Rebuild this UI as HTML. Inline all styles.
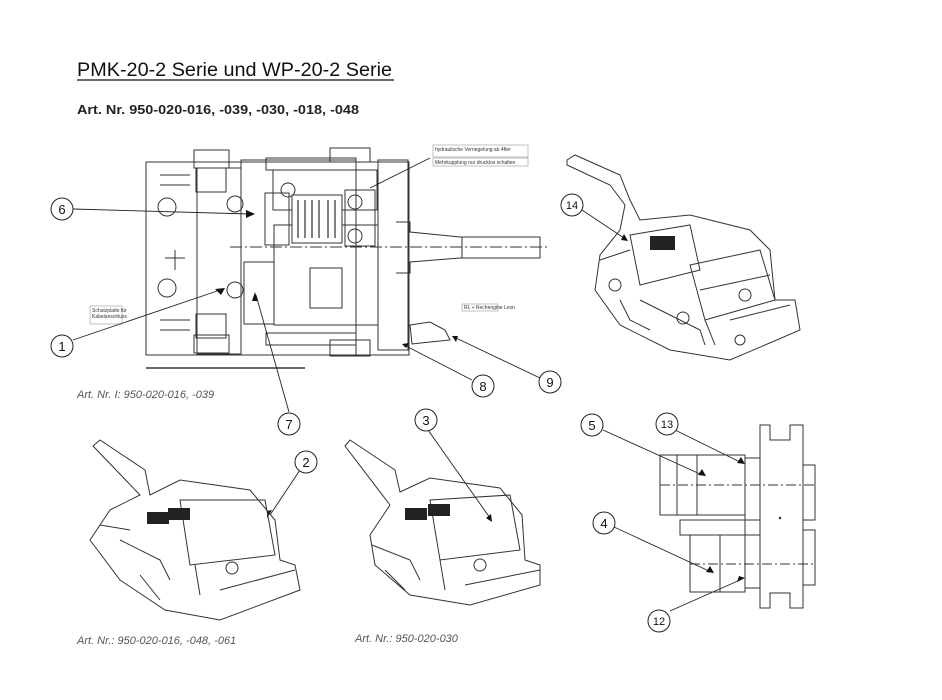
<!DOCTYPE html>
<html><head><meta charset="utf-8"><style>
body{margin:0;background:#fff;width:942px;height:700px;overflow:hidden;font-family:"Liberation Sans",sans-serif}
svg{position:absolute;left:0;top:0}
</style></head><body>
<svg width="942" height="700" viewBox="0 0 942 700" xmlns="http://www.w3.org/2000/svg" font-family="Liberation Sans, sans-serif">
<text x="77" y="76" font-size="19" fill="#111" textLength="315" lengthAdjust="spacingAndGlyphs">PMK-20-2 Serie und WP-20-2 Serie</text>
<line x1="77" y1="80" x2="394" y2="80" stroke="#111" stroke-width="1.3"/>
<text x="77" y="114" font-size="12.5" font-weight="bold" fill="#222" textLength="282" lengthAdjust="spacingAndGlyphs">Art. Nr. 950-020-016, -039, -030, -018, -048</text>
<g font-size="11" font-style="italic" fill="#555">
<text x="77" y="398">Art. Nr.  I: 950-020-016, -039</text>
<text x="77" y="644">Art. Nr.: 950-020-016, -048, -061</text>
<text x="355" y="642">Art. Nr.: 950-020-030</text>
</g>
<g fill="none" stroke="#333" stroke-width="1">
<rect x="146" y="162" width="263" height="193"/>
<rect x="197" y="168" width="44" height="186"/>
<rect x="241" y="160" width="115" height="195"/>
<rect x="273" y="170" width="104" height="40"/>
<rect x="274" y="225" width="104" height="100"/>
<rect x="345" y="190" width="30" height="56"/>
<rect x="265" y="193" width="24" height="52"/>
<rect x="244" y="262" width="30" height="62"/>
<rect x="310" y="268" width="32" height="40"/>
<rect x="196" y="168" width="30" height="24"/>
<rect x="196" y="314" width="30" height="24"/>
<rect x="194" y="150" width="35" height="18"/>
<rect x="194" y="335" width="35" height="18"/>
<rect x="330" y="148" width="40" height="14"/>
<rect x="330" y="340" width="40" height="16"/>
<rect x="266" y="158" width="90" height="12"/>
<rect x="266" y="333" width="90" height="12"/>
<rect x="378" y="160" width="30" height="190"/>
<path d="M160 175 h30 M160 185 h30 M160 320 h30 M160 330 h30"/>
<path d="M175 250 v20 M165 258 h20"/>
<path d="M396 222 L410 222 L410 232 L460 237 L540 237 L540 258 L460 258 L410 262 L410 273 L396 273"/>
<line x1="462" y1="237" x2="462" y2="258"/>
<circle cx="167" cy="207" r="9"/><circle cx="167" cy="288" r="9"/>
<circle cx="235" cy="204" r="8"/><circle cx="235" cy="290" r="8"/>
<circle cx="288" cy="190" r="7"/><circle cx="355" cy="202" r="7"/><circle cx="355" cy="236" r="7"/>
<path d="M410 325 L430 322 L445 330 L450 340 L430 342 L412 344 Z"/>
<line x1="146" y1="368" x2="305" y2="368" stroke-width="1.5"/>
<line x1="230" y1="247" x2="550" y2="247" stroke-dasharray="12 3 2 3"/>
</g>
<rect x="292" y="195" width="50" height="48" fill="#fff" stroke="#333"/>
<g stroke="#555" stroke-width="1.5"><line x1="298" y1="200" x2="298" y2="238"/><line x1="305" y1="200" x2="305" y2="238"/><line x1="312" y1="200" x2="312" y2="238"/><line x1="319" y1="200" x2="319" y2="238"/><line x1="328" y1="200" x2="328" y2="238"/><line x1="335" y1="200" x2="335" y2="238"/></g>
<g font-size="5" fill="#333">
<rect x="433" y="145" width="95" height="12" fill="#fff" stroke="#999" stroke-width=".6"/>
<text x="435" y="151">hydraulische Verriegelung ab 4fter</text>
<rect x="433" y="158" width="95" height="8" fill="#fff" stroke="#999" stroke-width=".6"/>
<text x="435" y="164">Mehrkupplung nur drucklos schalten</text>
<rect x="462" y="304" width="36" height="7" fill="#fff" stroke="#999" stroke-width=".6"/>
<text x="464" y="309">RL + Rechengine Lesn</text>
<rect x="90" y="306" width="32" height="18" fill="#fff" stroke="#999" stroke-width=".6"/>
<text x="92" y="312">Schutzplatte für</text><text x="92" y="318">Kabelanschluss</text>
</g>
<g stroke="#222" stroke-width="0.9">
<line x1="73" y1="209" x2="250" y2="214"/><line x1="73" y1="340" x2="220" y2="290"/>
<line x1="289" y1="412" x2="256" y2="295"/><line x1="472" y1="380" x2="406" y2="346"/>
<line x1="540" y1="378" x2="456" y2="338"/><line x1="582" y1="210" x2="624" y2="238"/>
<line x1="430" y1="158" x2="370" y2="188"/>
<line x1="300" y1="470" x2="270" y2="515"/><line x1="428" y1="430" x2="490" y2="518"/>
<line x1="603" y1="430" x2="700" y2="474"/><line x1="675" y1="430" x2="740" y2="462"/>
<line x1="614" y1="527" x2="709" y2="571"/><line x1="670" y1="611" x2="740" y2="580"/>
</g>
<g fill="#111">
<path d="M255 214 l-9 -4 l0 8z"/><path d="M225 288 l-10 1 l6 6z"/><path d="M255 292 l-3 9 l6 0z"/>
<path d="M402 344 l7 -1 l-3 5z"/><path d="M452 336 l6 0 l-2 6z"/><path d="M628 241 l-7 -1 l3 -6z"/>
<path d="M706 476 l-8 -1 l4 -6z"/><path d="M745 464 l-8 -1 l4 -6z"/><path d="M714 573 l-8 -1 l4 -6z"/><path d="M745 578 l-8 4 l2 -6z"/>
<path d="M272 510 l-5 8 l0 -7z"/><path d="M492 522 l-1 -8 l-5 4z"/>
</g>
<g fill="none" stroke="#333" stroke-width="1">
<path d="M567 160 L575 155 L620 175 L630 200 L640 220 L690 215 L750 230 L770 250 L775 300 L795 300 L800 330 L730 360 L670 350 L620 325 L595 290 L600 255 L620 230 L625 205 L610 185 L567 165Z"/>
<path d="M690 265 L760 250 L775 300 L705 320Z"/><path d="M630 235 L690 225 L700 270 L640 285Z"/>
<path d="M640 300 L700 330 L705 345 M620 300 L630 320 L650 330 M705 320 L715 345 M730 320 L790 305 M700 290 L770 275 M600 260 L630 250"/>
<circle cx="745" cy="295" r="6"/><circle cx="683" cy="318" r="6"/><circle cx="615" cy="285" r="6"/><circle cx="740" cy="340" r="5"/>
<path d="M93 446 L100 440 L145 470 L150 495 L180 480 L250 490 L275 520 L280 560 L295 565 L300 590 L220 620 L165 610 L120 580 L90 540 L110 510 L140 495 Z"/>
<path d="M180 500 L265 500 L275 555 L190 565Z"/><circle cx="232" cy="568" r="6"/>
<path d="M120 540 L160 560 L170 580 M195 565 L200 595 M220 590 L295 570 M100 525 L130 530 M140 575 L160 600"/>
<path d="M345 446 L350 440 L395 470 L400 492 L430 478 L500 488 L522 515 L525 560 L540 565 L540 585 L470 605 L410 595 L375 565 L370 535 L390 505 Z"/>
<path d="M430 500 L510 495 L520 550 L440 560Z"/><circle cx="480" cy="565" r="6"/>
<path d="M372 545 L410 560 L420 580 M440 560 L445 590 M465 585 L540 570 M385 570 L405 590"/>
</g>
<g fill="#222"><rect x="650" y="236" width="25" height="14"/><rect x="147" y="512" width="22" height="12"/><rect x="168" y="508" width="22" height="12"/><rect x="405" y="508" width="22" height="12"/><rect x="428" y="504" width="22" height="12"/></g>
<g fill="none" stroke="#333" stroke-width="1">
<path d="M760 425 L770 425 L770 440 L790 440 L790 425 L803 425 L803 608 L790 608 L790 593 L770 593 L770 608 L760 608 Z"/>
<rect x="745" y="458" width="15" height="130"/><rect x="803" y="465" width="12" height="55"/><rect x="803" y="530" width="12" height="55"/>
<rect x="660" y="455" width="85" height="60"/><line x1="697" y1="455" x2="697" y2="515"/><line x1="677" y1="455" x2="677" y2="515"/>
<rect x="680" y="520" width="80" height="15"/>
<rect x="690" y="535" width="55" height="57"/><line x1="720" y1="535" x2="720" y2="592"/>
<line x1="660" y1="485" x2="815" y2="485" stroke-dasharray="10 3 2 3"/>
<line x1="690" y1="564" x2="815" y2="564" stroke-dasharray="10 3 2 3"/>
</g>
<circle cx="780" cy="518" r="1.2" fill="#222"/>
<g fill="#fff" stroke="#222" stroke-width="1">
<circle cx="62" cy="209" r="11"/><circle cx="62" cy="346" r="11"/><circle cx="289" cy="424" r="11"/>
<circle cx="483" cy="386" r="11"/><circle cx="550" cy="382" r="11"/><circle cx="572" cy="205" r="11"/>
<circle cx="306" cy="462" r="11"/><circle cx="426" cy="420" r="11"/><circle cx="592" cy="425" r="11"/>
<circle cx="667" cy="424" r="11"/><circle cx="604" cy="523" r="11"/><circle cx="659" cy="621" r="11"/>
</g>
<g font-size="13" text-anchor="middle" fill="#111">
<text x="62" y="214">6</text><text x="62" y="351">1</text><text x="289" y="429">7</text>
<text x="483" y="391">8</text><text x="550" y="387">9</text><text x="572" y="209" font-size="11">14</text>
<text x="306" y="467">2</text><text x="426" y="425">3</text><text x="592" y="430">5</text>
<text x="667" y="428" font-size="11">13</text><text x="604" y="528">4</text><text x="659" y="625" font-size="11">12</text>
</g>
</svg>
</body></html>
